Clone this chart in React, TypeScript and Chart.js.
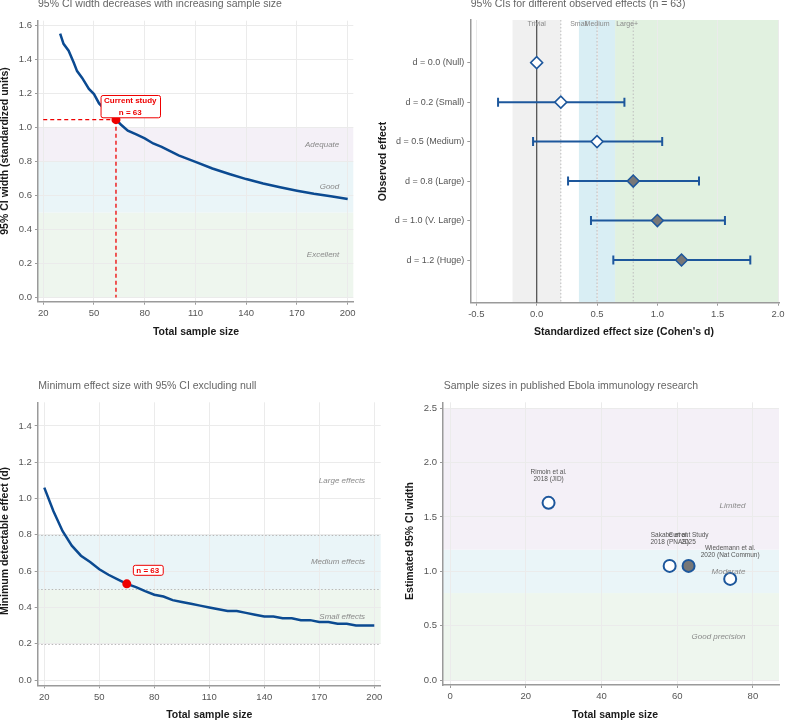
import React, { useEffect, useRef } from 'react';
import { Chart, registerables } from 'chart.js';

Chart.register(...registerables);

const FONT = '"Liberation Sans", Arial, Helvetica, sans-serif';

// ---------- Panel A: CI width vs sample size ----------
const ciSampleN = [30, 32, 35, 38, 40, 43, 47, 50, 53, 57, 60, 63, 66, 70, 75, 80, 85, 90, 95, 100, 110, 120, 130, 140, 150, 160, 170, 180, 190, 200];
const ciWidth = [1.55, 1.49, 1.45, 1.38, 1.33, 1.29, 1.225, 1.195, 1.14, 1.10, 1.07, 1.045, 1.015, 0.98, 0.958, 0.935, 0.905, 0.885, 0.86, 0.835, 0.797, 0.758, 0.726, 0.696, 0.67, 0.648, 0.628, 0.61, 0.595, 0.579];
const ciXTicks = [20, 50, 80, 110, 140, 170, 200];
const ciYTicks = [0, 0.2, 0.4, 0.6, 0.8, 1.0, 1.2, 1.4, 1.6];
const ciBandFrom = [0, 0.5, 0.8];
const ciBandTo = [0.5, 0.8, 1.0];
const ciBandLabels = ['Excellent', 'Good', 'Adequate'];
const ciBandLabelY = [0.25, 0.65, 0.9];
const currentN = 63;
const currentCI = 1.045;

// ---------- Panel B: forest of CIs ----------
const effectLabels = ['d = 0.0 (Null)', 'd = 0.2 (Small)', 'd = 0.5 (Medium)', 'd = 0.8 (Large)', 'd = 1.0 (V. Large)', 'd = 1.2 (Huge)'];
const effectD = [0, 0.2, 0.5, 0.8, 1.0, 1.2];
const effectLow = [null, -0.32, -0.03, 0.26, 0.45, 0.635];
const effectHigh = [null, 0.727, 1.04, 1.345, 1.56, 1.77];
const effectFilled = [false, false, false, true, true, true];
const effectXTicks = [-0.5, 0, 0.5, 1.0, 1.5, 2.0];
const effectBandFrom = [-0.2, 0.2, 0.35, 0.65];
const effectBandTo = [0.2, 0.35, 0.65, 2.0];
const effectBandLabels = ['Trivial', 'Small', 'Medium', 'Large+'];
const effectBandLabelX = [0, 0.35, 0.5, 0.75];
const effectRefLines = [0.2, 0.5, 0.8];

// ---------- Panel C: minimum detectable effect ----------
const mdeN = [20, 25, 30, 35, 40, 45, 50, 55, 60, 65, 70, 75, 80, 85, 90, 95, 100, 105, 110, 115, 120, 125, 130, 135, 140, 145, 150, 155, 160, 165, 170, 175, 180, 185, 190, 195, 200];
const mdeD = [1.06, 0.93, 0.82, 0.74, 0.685, 0.65, 0.61, 0.58, 0.555, 0.53, 0.512, 0.49, 0.47, 0.46, 0.44, 0.43, 0.42, 0.41, 0.40, 0.39, 0.38, 0.38, 0.37, 0.36, 0.35, 0.35, 0.34, 0.34, 0.33, 0.33, 0.32, 0.32, 0.31, 0.31, 0.30, 0.30, 0.30];
const mdeXTicks = [20, 50, 80, 110, 140, 170, 200];
const mdeYTicks = [0, 0.2, 0.4, 0.6, 0.8, 1.0, 1.2, 1.4];
const mdeBandFrom = [0.2, 0.5];
const mdeBandTo = [0.5, 0.8];
const mdeRefLines = [0.2, 0.5, 0.8];
const mdeBandLabels = ['Small effects', 'Medium effects', 'Large effects'];
const mdeBandLabelY = [0.35, 0.65, 1.1];
const mdeMarkerN = 65;
const mdeMarkerD = 0.53;

// ---------- Panel D: published studies ----------
const studyNames = [['Rimoin et al.', '2018 (JID)'], ['Sakabe et al.', '2018 (PNAS)'], ['Current Study', '2025'], ['Wiedemann et al.', '2020 (Nat Commun)']];
const studyN = [26, 58, 63, 74];
const studyWidth = [1.63, 1.05, 1.05, 0.93];
const studyIsCurrent = [false, false, true, false];
const studyXTicks = [0, 20, 40, 60, 80];
const studyYTicks = [0, 0.5, 1.0, 1.5, 2.0, 2.5];
const studyBandFrom = [0, 0.8, 1.2];
const studyBandTo = [0.8, 1.2, 2.5];
const studyBandLabels = ['Good precision', 'Moderate', 'Limited'];
const studyBandLabelY = [0.4, 1.0, 1.6];

// ---------- styles ----------
const GRID = '#ebebeb';
const AXIS = '#9a9a9a';
const TICK = '#555555';
const LINE_BLUE = '#0b4a91';
const MARK_BLUE = '#1d579c';
const RED = '#ee0000';
const TITLE_FONT = `10.5px ${FONT}`;
const AXIS_TITLE_FONT = `bold 10.5px ${FONT}`;
const BAND_FONT = `italic 8px ${FONT}`;
const TITLE_COLOR = '#666666';
const AXIS_TITLE_COLOR = '#1a1a1a';
const GREEN_BAND = '#eef6ee';
const BLUE_BAND = '#eaf5f8';
const PURPLE_BAND = '#f4f0f7';

type Txt = { text: string; x: number; y: number; font: string; color: string; align?: CanvasTextAlign; rotate?: boolean };

function drawTexts(ctx: CanvasRenderingContext2D, items: Txt[]) {
  for (const t of items) {
    ctx.save();
    ctx.font = t.font;
    ctx.fillStyle = t.color;
    ctx.textAlign = t.align || 'left';
    ctx.textBaseline = 'middle';
    ctx.translate(t.x, t.y);
    if (t.rotate) ctx.rotate(-Math.PI / 2);
    ctx.fillText(t.text, 0, 0);
    ctx.restore();
  }
}

function fmt1(v: number) {
  return v.toFixed(1);
}

function linAxis(o: any) {
  return {
    type: 'linear',
    min: o.min,
    max: o.max,
    reverse: !!o.reverse,
    position: o.isX ? 'bottom' : 'left',
    afterBuildTicks: (s: any) => {
      s.ticks = o.ticks.map((v: number) => ({ value: v }));
    },
    afterFit: (s: any) => {
      if (o.isX) s.height = o.fit;
      else s.width = o.fit;
      s.paddingLeft = 0;
      s.paddingRight = 0;
      s.paddingTop = 0;
      s.paddingBottom = 0;
    },
    grid: { color: o.gridColor || GRID, lineWidth: 1, drawTicks: true, tickLength: 3, tickColor: AXIS, tickWidth: 1 },
    border: { display: true, color: AXIS, width: 1.5 },
    ticks: {
      callback: (v: any) => o.fmt(Number(v)),
      color: TICK,
      font: { family: FONT, size: o.fontSize || 9.5 },
      padding: 3,
      autoSkip: false,
      maxRotation: 0,
    },
  };
}

function yBand(chart: any, from: number, to: number, color: string) {
  const { ctx, chartArea: a, scales } = chart;
  const y1 = scales.y.getPixelForValue(to);
  const y2 = scales.y.getPixelForValue(from);
  ctx.save();
  ctx.fillStyle = color;
  ctx.fillRect(a.left, y1, a.right - a.left, y2 - y1);
  ctx.restore();
}

function xBand(chart: any, from: number, to: number, color: string) {
  const { ctx, chartArea: a, scales } = chart;
  const x1 = scales.x.getPixelForValue(from);
  const x2 = scales.x.getPixelForValue(to);
  ctx.save();
  ctx.fillStyle = color;
  ctx.fillRect(x1, a.top, x2 - x1, a.bottom - a.top);
  ctx.restore();
}

function hRefLine(chart: any, v: number) {
  const { ctx, chartArea: a, scales } = chart;
  const y = Math.round(scales.y.getPixelForValue(v)) + 0.5;
  ctx.save();
  ctx.strokeStyle = '#b8b8b8';
  ctx.lineWidth = 1;
  ctx.setLineDash([1.5, 2]);
  ctx.beginPath();
  ctx.moveTo(a.left, y);
  ctx.lineTo(a.right, y);
  ctx.stroke();
  ctx.restore();
}

function vRefLine(chart: any, v: number, color: string, width: number, dash: number[]) {
  const { ctx, chartArea: a, scales } = chart;
  const x = scales.x.getPixelForValue(v);
  ctx.save();
  ctx.strokeStyle = color;
  ctx.lineWidth = width;
  ctx.setLineDash(dash);
  ctx.beginPath();
  ctx.moveTo(x, a.top);
  ctx.lineTo(x, a.bottom);
  ctx.stroke();
  ctx.restore();
}

function labelBox(ctx: CanvasRenderingContext2D, lines: string[], cx: number, cy: number, spacing: number) {
  ctx.save();
  ctx.font = `bold 8px ${FONT}`;
  const w = Math.max(...lines.map((l) => ctx.measureText(l).width)) + 7;
  const h = spacing * (lines.length - 1) + 10;
  const x0 = cx - w / 2;
  const y0 = cy - h / 2;
  ctx.fillStyle = '#ffffff';
  ctx.strokeStyle = RED;
  ctx.lineWidth = 1;
  ctx.beginPath();
  (ctx as any).roundRect(x0 + 0.5, y0 + 0.5, w, h, 2);
  ctx.fill();
  ctx.stroke();
  ctx.fillStyle = RED;
  ctx.textAlign = 'center';
  ctx.textBaseline = 'middle';
  lines.forEach((l, i) => ctx.fillText(l, cx, y0 + 5 + i * spacing + 0.5));
  ctx.restore();
}

const baseOptions = {
  responsive: false,
  animation: false,
  devicePixelRatio: 1,
  plugins: { legend: { display: false }, tooltip: { enabled: false } },
};

function configA(): any {
  return {
    type: 'scatter',
    data: {
      datasets: [
        { data: [{ x: currentN, y: currentCI }], pointRadius: 4.5, pointBackgroundColor: RED, pointBorderWidth: 0 },
        { data: [{ x: ciXTicks[0], y: currentCI }, { x: currentN, y: currentCI }], showLine: true, borderColor: RED, borderWidth: 1.3, borderDash: [4, 3], pointRadius: 0 },
        { data: [{ x: currentN, y: currentCI }, { x: currentN, y: 0 }], showLine: true, borderColor: RED, borderWidth: 1.3, borderDash: [4, 3], pointRadius: 0 },
        { data: ciSampleN.map((n, i) => ({ x: n, y: ciWidth[i] })), showLine: true, borderColor: LINE_BLUE, borderWidth: 2.5, pointRadius: 0, tension: 0 },
      ],
    },
    options: {
      ...baseOptions,
      layout: { padding: { left: 0, top: 20.7, right: 39.7, bottom: 0 } },
      scales: {
        x: linAxis({ min: 16.9, max: 203.3, ticks: ciXTicks, fmt: (v: number) => String(v), fit: 58.3, isX: true }),
        y: linAxis({ min: -0.024, max: 1.626, ticks: ciYTicks, fmt: fmt1, fit: 38, isX: false }),
      },
    },
    plugins: [
      {
        id: 'decorA',
        beforeDraw(chart: any) {
          const colors = [GREEN_BAND, BLUE_BAND, PURPLE_BAND];
          ciBandFrom.forEach((f, i) => yBand(chart, f, ciBandTo[i], colors[i]));
        },
        afterDraw(chart: any) {
          const { ctx, scales } = chart;
          drawTexts(
            ctx,
            ciBandLabels.map((t, i) => ({ text: t, x: scales.x.getPixelForValue(195), y: scales.y.getPixelForValue(ciBandLabelY[i]), font: BAND_FONT, color: '#8a8a8a', align: 'right' as CanvasTextAlign }))
          );
          const px = scales.x.getPixelForValue(currentN);
          const py = scales.y.getPixelForValue(currentCI);
          labelBox(ctx, ['Current study', `n = ${currentN}`], px + 14.3, py - 13.5, 12.3);
          drawTexts(ctx, [
            { text: '95% CI width decreases with increasing sample size', x: 38, y: 4, font: TITLE_FONT, color: TITLE_COLOR },
            { text: '95% CI width (standardized units)', x: 5.5, y: 151, font: AXIS_TITLE_FONT, color: AXIS_TITLE_COLOR, align: 'center', rotate: true },
            { text: 'Total sample size', x: 196, y: 332, font: AXIS_TITLE_FONT, color: AXIS_TITLE_COLOR, align: 'center' },
          ]);
        },
      },
    ],
  };
}

function configB(): any {
  const datasets: any[] = [];
  datasets.push({
    data: effectD.map((d, i) => ({ x: d, y: i + 1 })),
    pointStyle: 'rectRot',
    pointRadius: 6,
    pointBackgroundColor: effectFilled.map((f) => (f ? '#777777' : '#ffffff')),
    pointBorderColor: MARK_BLUE,
    pointBorderWidth: 1.5,
  });
  const caps: any[] = [];
  effectD.forEach((_, i) => {
    if (effectLow[i] === null || effectHigh[i] === null) return;
    caps.push({ x: effectLow[i], y: i + 1 }, { x: effectHigh[i], y: i + 1 });
  });
  datasets.push({ data: caps, pointStyle: 'line', pointRotation: 90, pointRadius: 4.5, pointBorderColor: MARK_BLUE, pointBorderWidth: 2 });
  effectD.forEach((_, i) => {
    if (effectLow[i] === null || effectHigh[i] === null) return;
    datasets.push({ data: [{ x: effectLow[i], y: i + 1 }, { x: effectHigh[i], y: i + 1 }], showLine: true, borderColor: MARK_BLUE, borderWidth: 2, pointRadius: 0 });
  });
  return {
    type: 'scatter',
    data: { datasets },
    options: {
      ...baseOptions,
      layout: { padding: { left: 0, top: 20, right: 6, bottom: 0 } },
      scales: {
        x: linAxis({ min: -0.55, max: 2.012, ticks: effectXTicks, fmt: fmt1, fit: 57.3, isX: true }),
        y: linAxis({ min: -0.08, max: 7.08, reverse: true, ticks: [1, 2, 3, 4, 5, 6], fmt: (v: number) => effectLabels[v - 1], fit: 98.3, isX: false, gridColor: 'rgba(0,0,0,0)', fontSize: 9 }),
      },
    },
    plugins: [
      {
        id: 'decorB',
        beforeDraw(chart: any) {
          const colors = ['#f0f0f0', 'rgba(255,255,255,0)', '#d9eef4', '#e1f1e0'];
          effectBandFrom.forEach((f, i) => xBand(chart, f, effectBandTo[i], colors[i]));
        },
        beforeDatasetsDraw(chart: any) {
          effectRefLines.forEach((v) => vRefLine(chart, v, '#bdbdbd', 1, [1.5, 2]));
          vRefLine(chart, 0, '#555555', 1.3, []);
          const { ctx, scales, chartArea } = chart;
          drawTexts(
            ctx,
            effectBandLabels.map((t, i) => ({ text: t, x: scales.x.getPixelForValue(effectBandLabelX[i]), y: chartArea.top + 4, font: `7px ${FONT}`, color: '#8a8a8a', align: 'center' as CanvasTextAlign }))
          );
        },
        afterDraw(chart: any) {
          drawTexts(chart.ctx, [
            { text: '95% CIs for different observed effects (n = 63)', x: 98.7, y: 4, font: TITLE_FONT, color: TITLE_COLOR },
            { text: 'Observed effect', x: 10.7, y: 161.5, font: AXIS_TITLE_FONT, color: AXIS_TITLE_COLOR, align: 'center', rotate: true },
            { text: "Standardized effect size (Cohen's d)", x: 252, y: 332, font: AXIS_TITLE_FONT, color: AXIS_TITLE_COLOR, align: 'center' },
          ]);
        },
      },
    ],
  };
}

function configC(): any {
  return {
    type: 'scatter',
    data: {
      datasets: [
        { data: [{ x: mdeMarkerN, y: mdeMarkerD }], pointRadius: 4.5, pointBackgroundColor: RED, pointBorderWidth: 0 },
        { data: mdeN.map((n, i) => ({ x: n, y: mdeD[i] })), showLine: true, borderColor: LINE_BLUE, borderWidth: 2.5, pointRadius: 0, tension: 0 },
      ],
    },
    options: {
      ...baseOptions,
      layout: { padding: { left: 0, top: 42.3, right: 12.3, bottom: 0 } },
      scales: {
        x: linAxis({ min: 16.4, max: 203.5, ticks: mdeXTicks, fmt: (v: number) => String(v), fit: 35.7, isX: true }),
        y: linAxis({ min: -0.029, max: 1.53, ticks: mdeYTicks, fmt: fmt1, fit: 37.7, isX: false }),
      },
    },
    plugins: [
      {
        id: 'decorC',
        beforeDraw(chart: any) {
          const colors = [GREEN_BAND, BLUE_BAND];
          mdeBandFrom.forEach((f, i) => yBand(chart, f, mdeBandTo[i], colors[i]));
        },
        beforeDatasetsDraw(chart: any) {
          mdeRefLines.forEach((v) => hRefLine(chart, v));
        },
        afterDraw(chart: any) {
          const { ctx, scales } = chart;
          drawTexts(
            ctx,
            mdeBandLabels.map((t, i) => ({ text: t, x: scales.x.getPixelForValue(195), y: scales.y.getPixelForValue(mdeBandLabelY[i]), font: BAND_FONT, color: '#8a8a8a', align: 'right' as CanvasTextAlign }))
          );
          const px = scales.x.getPixelForValue(mdeMarkerN);
          const py = scales.y.getPixelForValue(mdeMarkerD);
          labelBox(ctx, [`n = ${currentN}`], px + 21, py - 14, 12.3);
          drawTexts(ctx, [
            { text: 'Minimum effect size with 95% CI excluding null', x: 38.3, y: 26, font: TITLE_FONT, color: TITLE_COLOR },
            { text: 'Minimum detectable effect (d)', x: 5.5, y: 181, font: AXIS_TITLE_FONT, color: AXIS_TITLE_COLOR, align: 'center', rotate: true },
            { text: 'Total sample size', x: 209.3, y: 355, font: AXIS_TITLE_FONT, color: AXIS_TITLE_COLOR, align: 'center' },
          ]);
        },
      },
    ],
  };
}

function configD(): any {
  return {
    type: 'scatter',
    data: {
      datasets: [
        {
          data: studyN.map((n, i) => ({ x: n, y: studyWidth[i] })),
          pointRadius: 6,
          pointBackgroundColor: studyIsCurrent.map((c) => (c ? '#777777' : '#ffffff')),
          pointBorderColor: MARK_BLUE,
          pointBorderWidth: 2,
        },
      ],
    },
    options: {
      ...baseOptions,
      layout: { padding: { left: 0, top: 42.3, right: 0, bottom: 0 } },
      scales: {
        x: linAxis({ min: -1.9, max: 86.9, ticks: studyXTicks, fmt: (v: number) => String(v), fit: 36, isX: true }),
        y: linAxis({ min: -0.046, max: 2.555, ticks: studyYTicks, fmt: fmt1, fit: 71, isX: false }),
      },
    },
    plugins: [
      {
        id: 'decorD',
        beforeDraw(chart: any) {
          const colors = [GREEN_BAND, BLUE_BAND, PURPLE_BAND];
          studyBandFrom.forEach((f, i) => yBand(chart, f, studyBandTo[i], colors[i]));
        },
        afterDraw(chart: any) {
          const { ctx, scales } = chart;
          drawTexts(
            ctx,
            studyBandLabels.map((t, i) => ({ text: t, x: scales.x.getPixelForValue(78), y: scales.y.getPixelForValue(studyBandLabelY[i]), font: BAND_FONT, color: '#8a8a8a', align: 'right' as CanvasTextAlign }))
          );
          const items: Txt[] = [];
          studyN.forEach((n, i) => {
            const px = scales.x.getPixelForValue(n);
            const py = scales.y.getPixelForValue(studyWidth[i]);
            studyNames[i].forEach((line, j) => {
              items.push({ text: line, x: px, y: py - 30.5 + j * 7, font: `6.5px ${FONT}`, color: '#555555', align: 'center' });
            });
          });
          drawTexts(ctx, items);
          drawTexts(ctx, [
            { text: 'Sample sizes in published Ebola immunology research', x: 71.7, y: 26, font: TITLE_FONT, color: TITLE_COLOR },
            { text: 'Estimated 95% CI width', x: 38, y: 181, font: AXIS_TITLE_FONT, color: AXIS_TITLE_COLOR, align: 'center', rotate: true },
            { text: 'Total sample size', x: 243, y: 355, font: AXIS_TITLE_FONT, color: AXIS_TITLE_COLOR, align: 'center' },
          ]);
        },
      },
    ],
  };
}

export default function App() {
  const r1 = useRef<HTMLCanvasElement>(null);
  const r2 = useRef<HTMLCanvasElement>(null);
  const r3 = useRef<HTMLCanvasElement>(null);
  const r4 = useRef<HTMLCanvasElement>(null);

  useEffect(() => {
    const charts = [
      new Chart(r1.current as HTMLCanvasElement, configA()),
      new Chart(r2.current as HTMLCanvasElement, configB()),
      new Chart(r3.current as HTMLCanvasElement, configC()),
      new Chart(r4.current as HTMLCanvasElement, configD()),
    ];
    return () => charts.forEach((c) => c.destroy());
  }, []);

  const cs = (left: number, top: number): React.CSSProperties => ({ position: 'absolute', left, top });

  return (
    <div style={{ position: 'fixed', left: 0, top: 0, width: 787, height: 721, background: '#ffffff', overflow: 'hidden' }}>
      <canvas ref={r1} width={393} height={360} style={cs(0, 0)} />
      <canvas ref={r2} width={415} height={360} style={cs(372, 0)} />
      <canvas ref={r3} width={393} height={361} style={cs(0, 360)} />
      <canvas ref={r4} width={415} height={361} style={cs(372, 360)} />
    </div>
  );
}
